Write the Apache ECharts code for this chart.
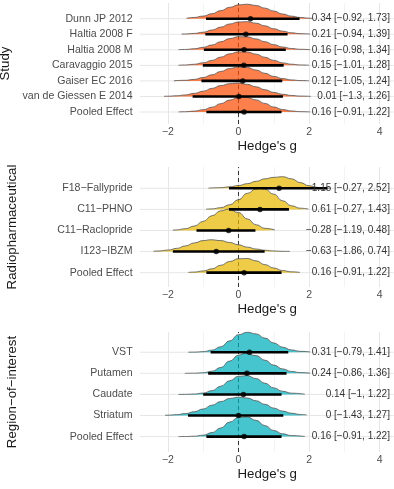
<!DOCTYPE html>
<html><head><meta charset="utf-8">
<script src="https://cdn.jsdelivr.net/npm/echarts@6/dist/echarts.min.js"></script>
<style>html,body{margin:0;padding:0;background:#fff}#c{width:394px;height:489px}</style>
</head><body><div id="c"></div>
<script>
// ---------- axis ----------
const AXIS_MIN = -3, AXIS_MAX = 4.4;
const GRID_X_MIN = -2.79, GRID_X_MAX = 4.4;
const LABEL_X = 4.29;
const TICK_LABELS = [-2, 0, 2, 4];

// ---------- Study panel ----------
const studyLabels = ['Dunn JP 2012', 'Haltia 2008 F', 'Haltia 2008 M', 'Caravaggio 2015', 'Gaiser EC 2016', 'van de Giessen E 2014', 'Pooled Effect'];
const studyEst  = [0.34, 0.21, 0.16, 0.15, 0.12, 0.01, 0.16];
const studyLow  = [-0.92, -0.94, -0.98, -1.01, -1.05, -1.3, -0.91];
const studyHigh = [1.73, 1.39, 1.34, 1.28, 1.24, 1.26, 1.22];
const studyDensity = [
  [[-1.47,0.03],[-1.25,0.08],[-1,0.17],[-0.75,0.32],[-0.5,0.52],[-0.25,0.73],[0,0.89],[0.25,0.93],[0.5,0.85],[0.75,0.68],[1,0.49],[1.25,0.3],[1.5,0.165],[1.75,0.08],[2,0.034],[2.11,0.022]],
  [[-1.61,0.011],[-1.5,0.019],[-1.25,0.054],[-1,0.13],[-0.75,0.27],[-0.5,0.46],[-0.25,0.66],[0,0.79],[0.25,0.81],[0.5,0.71],[0.75,0.54],[1,0.35],[1.25,0.2],[1.5,0.094],[1.75,0.04],[2.03,0.012]],
  [[-1.7,0.009],[-1.5,0.024],[-1.25,0.068],[-1,0.16],[-0.75,0.31],[-0.5,0.52],[-0.25,0.72],[0,0.84],[0.25,0.83],[0.5,0.7],[0.75,0.52],[1,0.33],[1.25,0.18],[1.5,0.084],[1.75,0.034],[2.03,0.01]],
  [[-1.7,0.009],[-1.5,0.025],[-1.25,0.07],[-1,0.165],[-0.75,0.32],[-0.5,0.53],[-0.25,0.74],[0,0.87],[0.25,0.86],[0.5,0.72],[0.75,0.52],[1,0.32],[1.25,0.16],[1.5,0.075],[1.75,0.028],[2,0.009]],
  [[-1.83,0.009],[-1.5,0.04],[-1.25,0.1],[-1,0.22],[-0.75,0.39],[-0.5,0.61],[-0.25,0.8],[0,0.9],[0.25,0.86],[0.5,0.7],[0.75,0.49],[1,0.29],[1.25,0.15],[1.5,0.064],[1.75,0.023],[2,0.007]],
  [[-2.11,0.011],[-2,0.018],[-1.75,0.045],[-1.5,0.1],[-1.25,0.2],[-1,0.34],[-0.75,0.52],[-0.5,0.7],[-0.25,0.82],[0,0.86],[0.25,0.78],[0.5,0.62],[0.75,0.43],[1,0.26],[1.25,0.14],[1.5,0.064],[1.75,0.026],[2.05,0.007]],
  [[-1.7,0.007],[-1.5,0.019],[-1.25,0.059],[-1,0.15],[-0.75,0.31],[-0.5,0.54],[-0.25,0.77],[0,0.93],[0.25,0.93],[0.5,0.78],[0.75,0.55],[1,0.32],[1.25,0.16],[1.5,0.067],[1.75,0.024],[2.03,0.006]]
];

// ---------- Radiopharmaceutical panel ----------
const radioLabels = ['F18\u2212Fallypride', 'C11\u2212PHNO', 'C11\u2212Raclopride', 'I123\u2212IBZM', 'Pooled Effect'];
const radioEst  = [1.15, 0.61, -0.28, -0.63, 0.16];
const radioLow  = [-0.27, -0.27, -1.19, -1.86, -0.91];
const radioHigh = [2.52, 1.43, 0.48, 0.74, 1.22];
const radioDensity = [
  [[-0.85,0.009],[-0.5,0.031],[-0.25,0.069],[0,0.13],[0.25,0.22],[0.5,0.33],[0.75,0.45],[1,0.52],[1.25,0.55],[1.5,0.45],[1.75,0.27],[2,0.12],[2.25,0.04],[2.5,0.01],[2.6,0.005]],
  [[-0.92,0.009],[-0.75,0.023],[-0.5,0.081],[-0.25,0.22],[0,0.46],[0.25,0.76],[0.5,0.97],[0.62,1.0],[0.75,0.96],[1,0.72],[1.25,0.41],[1.5,0.17],[1.75,0.056],[1.98,0.015]],
  [[-1.86,0.016],[-1.75,0.028],[-1.5,0.086],[-1.25,0.21],[-1,0.43],[-0.75,0.7],[-0.5,0.93],[-0.28,1.01],[0,0.85],[0.25,0.55],[0.5,0.27],[0.75,0.1],[1.03,0.024]],
  [[-2.41,0.014],[-2.25,0.028],[-2,0.071],[-1.75,0.15],[-1.5,0.27],[-1.25,0.41],[-1,0.52],[-0.78,0.56],[-0.5,0.52],[-0.25,0.43],[0,0.32],[0.25,0.21],[0.5,0.12],[0.75,0.062],[1,0.029],[1.25,0.012],[1.46,0.005]],
  [[-1.42,0.012],[-1.25,0.028],[-1,0.08],[-0.75,0.18],[-0.5,0.35],[-0.25,0.53],[0,0.66],[0.25,0.67],[0.5,0.56],[0.75,0.38],[1,0.22],[1.25,0.1],[1.5,0.039],[1.74,0.013]]
];

// ---------- Region-of-interest panel ----------
const roiLabels = ['VST', 'Putamen', 'Caudate', 'Striatum', 'Pooled Effect'];
const roiEst  = [0.31, 0.24, 0.14, 0, 0.16];
const roiLow  = [-0.79, -0.86, -1, -1.43, -0.91];
const roiHigh = [1.41, 1.36, 1.22, 1.27, 1.22];
const roiDensity = [
  [[-1.42,0.002],[-1.25,0.006],[-1,0.028],[-0.75,0.1],[-0.5,0.26],[-0.25,0.54],[0,0.83],[0.25,0.95],[0.5,0.87],[0.75,0.67],[1,0.44],[1.25,0.24],[1.5,0.11],[1.75,0.042],[2.03,0.011]],
  [[-1.52,0.001],[-1.25,0.006],[-1,0.027],[-0.75,0.1],[-0.5,0.28],[-0.25,0.58],[0,0.86],[0.2,0.95],[0.5,0.84],[0.75,0.62],[1,0.39],[1.25,0.21],[1.5,0.09],[1.75,0.034],[2.03,0.009]],
  [[-1.7,0.001],[-1.5,0.004],[-1.25,0.018],[-1,0.064],[-0.75,0.18],[-0.5,0.39],[-0.25,0.65],[0,0.86],[0.25,0.89],[0.5,0.75],[0.75,0.53],[1,0.31],[1.25,0.15],[1.5,0.06],[1.88,0.011]],
  [[-2.08,0.012],[-2,0.016],[-1.75,0.041],[-1.5,0.09],[-1.25,0.18],[-1,0.31],[-0.75,0.49],[-0.5,0.66],[-0.25,0.81],[0,0.87],[0.25,0.83],[0.5,0.7],[0.75,0.53],[1,0.35],[1.25,0.21],[1.5,0.11],[1.75,0.05],[1.93,0.027]],
  [[-1.7,0.001],[-1.5,0.004],[-1.25,0.019],[-1,0.067],[-0.75,0.19],[-0.5,0.41],[-0.25,0.69],[0,0.91],[0.25,0.93],[0.5,0.77],[0.75,0.52],[1,0.29],[1.25,0.13],[1.5,0.047],[1.88,0.007]]
];

// ---------- styling / layout ----------
const FONT = '"Liberation Sans", Arial, Helvetica, sans-serif';
const MAJOR = '#E6E6E6', MINOR = '#F3F3F3';
const SPLIT_COLORS = ['rgba(0,0,0,0)', MAJOR, MINOR, MAJOR, MINOR, MAJOR, MINOR, MAJOR];
const minus = s => String(s).replace(/-/g, '\u2212');

const panels = [
  {labels: studyLabels, est: studyEst, low: studyLow, high: studyHigh, dens: studyDensity, title: 'Study', color: '#FC4E07', top: 3, height: 121, ymin: -0.77, ymax: 7.01},
  {labels: radioLabels, est: radioEst, low: radioLow, high: radioHigh, dens: radioDensity, title: 'Radiopharmaceutical', color: '#E7B800', top: 167, height: 120, ymin: -0.68, ymax: 5.01},
  {labels: roiLabels, est: roiEst, low: roiLow, high: roiHigh, dens: roiDensity, title: 'Region\u2212of\u2212interest', color: '#00AFBB', top: 332, height: 120, ymin: -0.73, ymax: 4.96}
];

const option = {animation: false, backgroundColor: '#fff', grid: [], xAxis: [], yAxis: [], series: []};

panels.forEach((p, k) => {
  const n = p.labels.length;
  const rowOf = i => n - 1 - i;
  option.grid.push({left: 132.6, width: 261.2, top: p.top, height: p.height, containLabel: false, outerBoundsMode: 'none'});
  option.xAxis.push({
    type: 'value', gridIndex: k, min: AXIS_MIN, max: AXIS_MAX, interval: 1,
    axisLine: {show: false}, axisTick: {show: false},
    splitLine: {show: true, lineStyle: {color: SPLIT_COLORS, width: 1}},
    axisLabel: {margin: 3, color: '#4D4D4D', fontSize: 10.5, fontFamily: FONT,
      formatter: v => TICK_LABELS.includes(v) ? minus(v) : ''},
    name: "Hedge's g", nameLocation: 'middle', nameGap: 16,
    nameTextStyle: {fontSize: 13.3, color: '#1A1A1A', fontFamily: FONT, padding: [0, 0, 0, 8]}
  });
  option.yAxis.push({
    type: 'value', gridIndex: k, min: p.ymin, max: p.ymax,
    axisLine: {show: false}, axisTick: {show: false}, splitLine: {show: false},
    axisLabel: {customValues: p.labels.map((_, i) => rowOf(i)), margin: 0, color: '#4D4D4D', fontSize: 10.6, fontFamily: FONT,
      formatter: v => p.labels[n - 1 - Math.round(v)]},
    name: p.title, nameLocation: 'middle', nameRotate: 90, nameGap: 114,
    nameTextStyle: {fontSize: 13.3, color: '#1A1A1A', fontFamily: FONT}
  });
  // horizontal row gridlines
  option.series.push({
    type: 'custom', xAxisIndex: k, yAxisIndex: k, silent: true, z: 1,
    data: p.labels.map((_, i) => [GRID_X_MIN, GRID_X_MAX, rowOf(i)]),
    renderItem: (params, api) => {
      const a = api.coord([api.value(0), api.value(2)]);
      const b = api.coord([api.value(1), api.value(2)]);
      return {type: 'line', shape: {x1: a[0], y1: a[1], x2: b[0], y2: b[1]}, style: {stroke: MAJOR, lineWidth: 1}};
    }
  });
  // dashed reference line at 0
  option.series.push({
    type: 'line', xAxisIndex: k, yAxisIndex: k, silent: true, z: 2, symbol: 'none',
    data: [[0, p.ymin], [0, p.ymax]],
    lineStyle: {color: '#333', width: 1, type: [4, 3]}
  });
  // densities, top row first so lower rows overlap
  p.dens.forEach((d, i) => {
    const r = rowOf(i);
    option.series.push({
      type: 'line', xAxisIndex: k, yAxisIndex: k, silent: true, z: 3,
      symbol: 'none', showSymbol: false, smooth: 0.5, smoothMonotone: 'x',
      data: d.map(([x, h]) => [x, r + h]),
      lineStyle: {color: '#555', width: 0.8},
      areaStyle: {origin: r, color: p.color, opacity: 0.72}
    });
  });
  // interval bars
  option.series.push({
    type: 'custom', xAxisIndex: k, yAxisIndex: k, silent: true, z: 10,
    data: p.labels.map((_, i) => [p.low[i], p.high[i], rowOf(i)]),
    renderItem: (params, api) => {
      const a = api.coord([api.value(0), api.value(2)]);
      const b = api.coord([api.value(1), api.value(2)]);
      return {type: 'line', shape: {x1: a[0], y1: a[1], x2: b[0], y2: b[1]}, style: {stroke: '#000', lineWidth: 2.6}};
    }
  });
  // point estimates
  option.series.push({
    type: 'scatter', xAxisIndex: k, yAxisIndex: k, silent: true, z: 11,
    symbol: 'circle', symbolSize: 5.5, itemStyle: {color: '#000'},
    data: p.labels.map((_, i) => [p.est[i], rowOf(i)])
  });
  // text labels
  option.series.push({
    type: 'custom', xAxisIndex: k, yAxisIndex: k, silent: true, z: 12,
    data: p.labels.map((_, i) => [LABEL_X, rowOf(i), i]),
    renderItem: (params, api) => {
      const i = api.value(2);
      const c = api.coord([api.value(0), api.value(1)]);
      return {type: 'text', style: {
        text: minus(p.est[i]) + ' [' + minus(p.low[i]) + ', ' + minus(p.high[i]) + ']',
        x: c[0], y: c[1], align: 'right', verticalAlign: 'middle',
        fill: '#333', font: '10px ' + FONT}};
    }
  });
});

const chart = echarts.init(document.getElementById('c'), null, {renderer: 'canvas'});
chart.setOption(option);
</script>
</body></html>
